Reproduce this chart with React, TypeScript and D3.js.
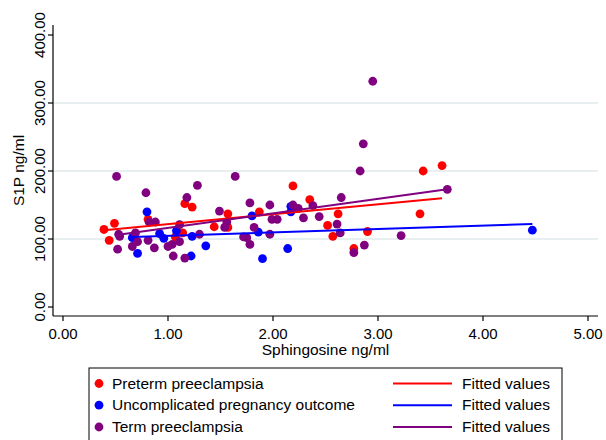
import * as d3 from 'd3';

const FONT = '"Liberation Sans", Arial, Helvetica, sans-serif';
const RED = '#ff0000';
const BLUE = '#0000ff';
const PURPLE = '#800080';
const GRID = '#e8eff1';

const xTicks = [0, 1, 2, 3, 4, 5];
const yTicks = [0, 100, 200, 300, 400];
const yGrid = [100, 200, 300];

// Sphingosine (ng/ml), S1P (ng/ml)
const pretermPoints: [number, number][] = [
  [0.39, 114], [0.49, 123], [0.44, 98], [0.81, 129], [1.16, 152], [1.23, 147],
  [1.57, 137], [1.44, 118], [1.57, 117], [1.07, 103], [1.14, 109], [1.87, 140],
  [2.19, 178], [2.35, 158], [2.62, 137], [2.52, 120], [2.57, 104], [2.77, 86],
  [2.90, 111], [3.43, 200], [3.61, 208], [3.40, 137],
];

const uncomplicatedPoints: [number, number][] = [
  [0.80, 140], [0.66, 102], [0.71, 79], [0.92, 108], [0.96, 101], [1.08, 112],
  [1.22, 75], [1.23, 104], [1.36, 90], [1.80, 134], [1.86, 110], [1.90, 71],
  [2.17, 148], [2.17, 140], [2.14, 86], [4.47, 113],
];

const termPoints: [number, number][] = [
  [0.51, 192], [0.79, 168], [0.53, 107], [0.54, 104], [0.52, 85], [0.69, 109],
  [0.71, 96], [0.66, 89], [0.82, 125], [0.88, 125], [0.81, 98], [0.87, 87],
  [1.28, 179], [1.18, 161], [1.64, 192], [1.49, 141], [1.56, 125], [1.54, 117],
  [1.11, 121], [1.00, 89], [1.04, 92], [1.11, 96], [1.05, 75], [1.16, 72],
  [1.30, 107], [1.78, 153], [1.82, 117], [1.72, 103], [1.75, 102], [1.78, 92],
  [1.97, 150], [2.19, 150], [2.24, 145], [2.38, 149], [2.65, 161], [2.29, 131],
  [2.44, 133], [1.99, 129], [2.04, 129], [2.61, 122], [2.64, 109], [1.97, 107],
  [2.77, 80], [2.87, 91], [2.83, 200], [2.95, 332], [2.86, 240], [3.66, 173],
  [3.22, 105],
];

const pretermFit: [number, number][] = [[0.39, 113], [3.61, 160]];
const uncomplicatedFit: [number, number][] = [[0.66, 103], [4.47, 122]];
const termFit: [number, number][] = [[0.51, 106], [3.66, 173]];

const scatterSeries = [
  { label: 'Preterm preeclampsia', color: RED, points: pretermPoints },
  { label: 'Uncomplicated pregnancy outcome', color: BLUE, points: uncomplicatedPoints },
  { label: 'Term preeclampsia', color: PURPLE, points: termPoints },
];
const fitSeries = [
  { label: 'Fitted values', color: RED, points: pretermFit },
  { label: 'Fitted values', color: BLUE, points: uncomplicatedFit },
  { label: 'Fitted values', color: PURPLE, points: termFit },
];

export default function App() {
  const x = d3.scaleLinear().domain([0, 5]).range([63, 588]);
  const y = d3.scaleLinear().domain([0, 400]).range([307, 35]);
  const axisLeft = 53;
  const axisBottom = 316;
  const axisTop = 25;
  const axisRight = 598;
  const line = d3.line<[number, number]>().x(d => x(d[0])).y(d => y(d[1]));
  const fmt = d3.format('.2f');

  const legendRows = [388.5, 410.2, 432];

  return (
    <svg width={606} height={440} style={{ position: 'absolute', left: 0, top: 0, background: '#fff' }}
      fontFamily={FONT}>
      <rect width={606} height={440} fill="#fff" />

      {/* grid */}
      {yGrid.map(v => (
        <line key={v} x1={axisLeft} x2={axisRight} y1={y(v)} y2={y(v)} stroke={GRID} strokeWidth={1.8} />
      ))}

      {/* axes */}
      <line x1={axisLeft} x2={axisLeft} y1={axisTop} y2={axisBottom} stroke="#000" strokeWidth={1.2} />
      <line x1={axisLeft} x2={axisRight} y1={axisBottom} y2={axisBottom} stroke="#000" strokeWidth={1.2} />
      {yTicks.map(v => (
        <g key={v}>
          <line x1={axisLeft - 5} x2={axisLeft} y1={y(v)} y2={y(v)} stroke="#000" strokeWidth={1.2} />
          <text transform={`translate(45,${y(v)}) rotate(-90)`} textAnchor="middle" fontSize={15}>{fmt(v)}</text>
        </g>
      ))}
      {xTicks.map(v => (
        <g key={v}>
          <line x1={x(v)} x2={x(v)} y1={axisBottom} y2={axisBottom + 5} stroke="#000" strokeWidth={1.2} />
          <text x={x(v)} y={338.5} textAnchor="middle" fontSize={15}>{fmt(v)}</text>
        </g>
      ))}
      <text transform={`translate(24,${(axisTop + axisBottom) / 2}) rotate(-90)`} textAnchor="middle" fontSize={15.5}>S1P ng/ml</text>
      <text x={(axisLeft + axisRight) / 2} y={354.5} textAnchor="middle" fontSize={15.5}>Sphingosine ng/ml</text>

      {/* points */}
      {scatterSeries.map(s => (
        <g key={s.label}>
          {s.points.map((p, i) => (
            <circle key={i} cx={x(p[0])} cy={y(p[1])} r={4.4} fill={s.color} />
          ))}
        </g>
      ))}

      {/* fitted lines */}
      {fitSeries.map((s, i) => (
        <path key={i} d={line(s.points) || ''} fill="none" stroke={s.color} strokeWidth={2} />
      ))}

      {/* legend */}
      <rect x={89} y={368} width={473} height={80} fill="#fff" stroke="#000" strokeWidth={1} />
      {scatterSeries.map((s, i) => (
        <g key={s.label}>
          <circle cx={99} cy={legendRows[i] - 5} r={4.4} fill={s.color} />
          <text x={112} y={legendRows[i]} fontSize={15.5}>{s.label}</text>
        </g>
      ))}
      {fitSeries.map((s, i) => (
        <g key={i}>
          <line x1={393} x2={452} y1={legendRows[i] - 5} y2={legendRows[i] - 5} stroke={s.color} strokeWidth={2} />
          <text x={462} y={legendRows[i]} fontSize={15.5}>{s.label}</text>
        </g>
      ))}
    </svg>
  );
}
